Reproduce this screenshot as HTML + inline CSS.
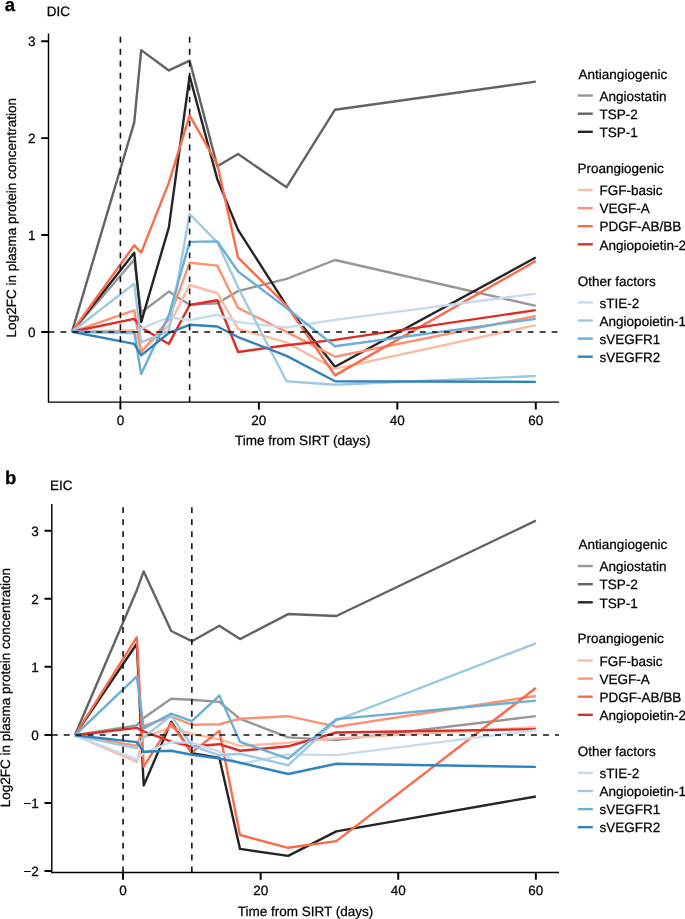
<!DOCTYPE html>
<html><head><meta charset="utf-8"><style>
html,body{margin:0;padding:0;background:#fff;}
svg{display:block;will-change:transform;}
text{font-family:"Liberation Sans",sans-serif;font-size:13.5px;fill:#000;stroke:#000;stroke-width:0.25px;text-rendering:geometricPrecision;}
text.lt{font-weight:bold;font-size:18.5px;}
polyline{fill:none;stroke-width:2.4;stroke-linejoin:round;stroke-linecap:butt;}
.lg{stroke-width:2.4;}
.dash line{stroke:#111;stroke-width:1.6;stroke-dasharray:5.9 6.08;}
.ax{fill:none;stroke:#000;stroke-width:1.45;}
.tk{fill:none;stroke:#000;stroke-width:1.95;}
</style></head><body>
<svg width="685" height="919" viewBox="0 0 685 919">
<polyline points="71.94,331.8 134.25,259.8 141.17,312.42 168.86,291.59 189.63,304.67 217.32,303.31 238.09,291.1 286.55,278.8 335.01,260 535.78,305.93" stroke="#969696"/>
<polyline points="71.94,331.8 134.25,122.4 141.17,50.11 168.86,70.46 189.63,60.67 217.32,166.29 238.09,154.09 286.55,187.23 335.01,109.71 535.78,81.6" stroke="#636363"/>
<polyline points="71.94,331.8 134.25,252.83 141.17,322.11 168.86,227.34 189.63,75.98 217.32,179.18 238.09,229.86 286.55,305.64 335.01,366.78 535.78,257.48" stroke="#252525"/>
<polyline points="71.94,331.8 134.25,330.25 141.17,351.18 168.86,325.5 189.63,285 217.32,293.04 238.09,328.89 286.55,342.46 335.01,368.91 535.78,325.11" stroke="#fcbba1"/>
<polyline points="71.94,331.8 134.25,310.29 141.17,352.15 168.86,319.2 189.63,262.81 217.32,265.62 238.09,307.87 286.55,331.8 335.01,356.8 535.78,316.01" stroke="#fc9272"/>
<polyline points="71.94,331.8 134.25,245.27 141.17,252.63 168.86,182.57 189.63,115.42 217.32,164.16 238.09,257.67 286.55,305.64 335.01,375.41 535.78,260.97" stroke="#fb6a4a"/>
<polyline points="71.94,331.8 134.25,318.91 141.17,327.44 168.86,343.91 189.63,304.96 217.32,300.21 238.09,351.96 286.55,345.27 335.01,339.84 535.78,310.09" stroke="#de2d26"/>
<polyline points="71.94,331.8 134.25,333.74 141.17,328.6 168.86,317.26 189.63,320.08 217.32,314.75 238.09,322.11 286.55,327.54 335.01,319.88 535.78,293.62" stroke="#c6dbef"/>
<polyline points="71.94,331.8 134.25,283.64 141.17,342.46 168.86,330.83 189.63,213.97 217.32,242.26 238.09,287.52 286.55,381.22 335.01,384.71 535.78,375.99" stroke="#9ecae1"/>
<polyline points="71.94,331.8 134.25,332.28 141.17,373.95 168.86,315.33 189.63,241.88 217.32,241.39 238.09,271.53 286.55,308.06 335.01,346.24 535.78,318.82" stroke="#6baed6"/>
<polyline points="71.94,331.8 134.25,343.91 141.17,355.35 168.86,332.96 189.63,324.82 217.32,326.47 238.09,337.03 286.55,355.83 335.01,381.22 535.78,381.9" stroke="#3182bd"/>
<g class="dash"><line x1="48.5" y1="332" x2="559" y2="332"/><line x1="120.4" y1="402.1" x2="120.4" y2="33.6"/><line x1="189.63" y1="402.1" x2="189.63" y2="33.6"/></g>
<path class="ax" d="M48.5,33.6V402.1H559"/>
<path class="tk" d="M48.5,332h-7.3M48.5,235.07h-7.3M48.5,138.14h-7.3M48.5,41.21h-7.3M120.4,402.1v7.3M258.86,402.1v7.3M397.32,402.1v7.3M535.78,402.1v7.3"/>
<text x="35.6" y="337" text-anchor="end">0</text>
<text x="35.6" y="240.07" text-anchor="end">1</text>
<text x="35.6" y="143.14" text-anchor="end">2</text>
<text x="35.6" y="46.21" text-anchor="end">3</text>
<text x="120.4" y="425.4" text-anchor="middle">0</text>
<text x="258.86" y="425.4" text-anchor="middle">20</text>
<text x="397.32" y="425.4" text-anchor="middle">40</text>
<text x="535.78" y="425.4" text-anchor="middle">60</text>
<text x="302.8" y="445.3" text-anchor="middle">Time from SIRT (days)</text>
<text transform="translate(16,217.7) rotate(-90)" text-anchor="middle">Log2FC in plasma protein concentration</text>
<text x="46.85" y="15.6">DIC</text>
<text class="lt" x="4.85" y="10.5">a</text>
<text x="578.6" y="78.8">Antiangiogenic</text>
<line x1="577.8" x2="592.8" y1="95.5" y2="95.5" stroke="#969696" class="lg"/>
<text x="599.6" y="100.7">Angiostatin</text>
<line x1="577.8" x2="592.8" y1="113.7" y2="113.7" stroke="#636363" class="lg"/>
<text x="599.6" y="118.9">TSP-2</text>
<line x1="577.8" x2="592.8" y1="131.8" y2="131.8" stroke="#252525" class="lg"/>
<text x="599.6" y="137">TSP-1</text>
<text x="577.5" y="172.7">Proangiogenic</text>
<line x1="577.8" x2="592.8" y1="190" y2="190" stroke="#fcbba1" class="lg"/>
<text x="599.6" y="195.2">FGF-basic</text>
<line x1="577.8" x2="592.8" y1="208.1" y2="208.1" stroke="#fc9272" class="lg"/>
<text x="599.6" y="213.3">VEGF-A</text>
<line x1="577.8" x2="592.8" y1="226.2" y2="226.2" stroke="#fb6a4a" class="lg"/>
<text x="599.6" y="231.4">PDGF-AB/BB</text>
<line x1="577.8" x2="592.8" y1="244.3" y2="244.3" stroke="#de2d26" class="lg"/>
<text x="599.6" y="249.5">Angiopoietin-2</text>
<text x="577.7" y="285.6">Other factors</text>
<line x1="577.8" x2="592.8" y1="302.4" y2="302.4" stroke="#c6dbef" class="lg"/>
<text x="599.6" y="307.6">sTIE-2</text>
<line x1="577.8" x2="592.8" y1="320.5" y2="320.5" stroke="#9ecae1" class="lg"/>
<text x="599.6" y="325.7">Angiopoietin-1</text>
<line x1="577.8" x2="592.8" y1="338.6" y2="338.6" stroke="#6baed6" class="lg"/>
<text x="599.6" y="343.8">sVEGFR1</text>
<line x1="577.8" x2="592.8" y1="356.7" y2="356.7" stroke="#3182bd" class="lg"/>
<text x="599.6" y="361.9">sVEGFR2</text>
<polyline points="74.89,735.3 136.81,725.4 143.69,718.09 171.21,698.69 191.85,699.72 219.37,701.83 240.01,718.91 288.17,737.35 336.33,740.08 535.85,716.18" stroke="#969696"/>
<polyline points="74.89,735.3 136.81,590.16 143.69,571.38 171.21,631.01 191.85,641.18 219.37,625.68 240.01,639.07 288.17,614.07 336.33,615.98 535.85,520.7" stroke="#636363"/>
<polyline points="74.89,735.3 136.81,643.78 143.69,785.5 171.21,721.64 191.85,753.06 219.37,757.84 240.01,848.88 288.17,855.92 336.33,831.4 535.85,796.5" stroke="#252525"/>
<polyline points="74.89,735.3 136.81,761.94 143.69,737.35 171.21,727.31 191.85,733.93 219.37,739.4 240.01,745.89 288.17,742.81 336.33,738.37 535.85,727.24" stroke="#fcbba1"/>
<polyline points="74.89,735.3 136.81,745.89 143.69,725.81 171.21,716.59 191.85,724.71 219.37,724.24 240.01,718.77 288.17,716.18 336.33,726.69 535.85,696.03" stroke="#fc9272"/>
<polyline points="74.89,735.3 136.81,637.22 143.69,766.58 171.21,723.21 191.85,752.38 219.37,730.86 240.01,835.02 288.17,847.79 336.33,841.16 535.85,688.04" stroke="#fb6a4a"/>
<polyline points="74.89,735.3 136.81,727.92 143.69,731.41 171.21,741.58 191.85,746.57 219.37,744.18 240.01,750.74 288.17,746.3 336.33,732.5 535.85,729.15" stroke="#de2d26"/>
<polyline points="74.89,735.3 136.81,759.41 143.69,753.06 171.21,742.13 191.85,742.81 219.37,751.69 240.01,763.99 288.17,754.42 336.33,755.11 535.85,730.18" stroke="#c6dbef"/>
<polyline points="74.89,735.3 136.81,748.41 143.69,737.35 171.21,715.56 191.85,745.68 219.37,755.31 240.01,753.74 288.17,765.28 336.33,720.27 535.85,643.37" stroke="#9ecae1"/>
<polyline points="74.89,735.3 136.81,676.29 143.69,728.33 171.21,713.51 191.85,721.23 219.37,695.62 240.01,741.79 288.17,758.59 336.33,719.18 535.85,700.6" stroke="#6baed6"/>
<polyline points="74.89,735.3 136.81,742.13 143.69,751.69 171.21,750.74 191.85,754.77 219.37,758.52 240.01,762.62 288.17,774.03 336.33,763.71 535.85,766.92" stroke="#3182bd"/>
<g class="dash"><line x1="51.8" y1="735" x2="559" y2="735"/><line x1="123.05" y1="872.5" x2="123.05" y2="503.9"/><line x1="191.85" y1="872.5" x2="191.85" y2="503.9"/></g>
<path class="ax" d="M51.8,503.9V872.5H559"/>
<path class="tk" d="M51.8,871.02h-7.3M51.8,802.96h-7.3M51.8,734.9h-7.3M51.8,666.84h-7.3M51.8,598.78h-7.3M51.8,530.72h-7.3M123.05,872.5v7.3M260.65,872.5v7.3M398.25,872.5v7.3M535.85,872.5v7.3"/>
<text x="38.8" y="876.02" text-anchor="end">−2</text>
<text x="38.8" y="807.96" text-anchor="end">−1</text>
<text x="38.8" y="739.9" text-anchor="end">0</text>
<text x="38.8" y="671.84" text-anchor="end">1</text>
<text x="38.8" y="603.78" text-anchor="end">2</text>
<text x="38.8" y="535.72" text-anchor="end">3</text>
<text x="123.05" y="895.3" text-anchor="middle">0</text>
<text x="260.65" y="895.3" text-anchor="middle">20</text>
<text x="398.25" y="895.3" text-anchor="middle">40</text>
<text x="535.85" y="895.3" text-anchor="middle">60</text>
<text x="305.6" y="916" text-anchor="middle">Time from SIRT (days)</text>
<text transform="translate(10.1,687.6) rotate(-90)" text-anchor="middle">Log2FC in plasma protein concentration</text>
<text x="50" y="490.1">EIC</text>
<text class="lt" x="5.1" y="484.35">b</text>
<text x="578.6" y="549.3">Antiangiogenic</text>
<line x1="577.8" x2="592.8" y1="566" y2="566" stroke="#969696" class="lg"/>
<text x="599.6" y="571.2">Angiostatin</text>
<line x1="577.8" x2="592.8" y1="584.2" y2="584.2" stroke="#636363" class="lg"/>
<text x="599.6" y="589.4">TSP-2</text>
<line x1="577.8" x2="592.8" y1="602.3" y2="602.3" stroke="#252525" class="lg"/>
<text x="599.6" y="607.5">TSP-1</text>
<text x="577.5" y="643.2">Proangiogenic</text>
<line x1="577.8" x2="592.8" y1="660.5" y2="660.5" stroke="#fcbba1" class="lg"/>
<text x="599.6" y="665.7">FGF-basic</text>
<line x1="577.8" x2="592.8" y1="678.6" y2="678.6" stroke="#fc9272" class="lg"/>
<text x="599.6" y="683.8">VEGF-A</text>
<line x1="577.8" x2="592.8" y1="696.7" y2="696.7" stroke="#fb6a4a" class="lg"/>
<text x="599.6" y="701.9">PDGF-AB/BB</text>
<line x1="577.8" x2="592.8" y1="714.8" y2="714.8" stroke="#de2d26" class="lg"/>
<text x="599.6" y="720">Angiopoietin-2</text>
<text x="577.7" y="756.1">Other factors</text>
<line x1="577.8" x2="592.8" y1="772.9" y2="772.9" stroke="#c6dbef" class="lg"/>
<text x="599.6" y="778.1">sTIE-2</text>
<line x1="577.8" x2="592.8" y1="791" y2="791" stroke="#9ecae1" class="lg"/>
<text x="599.6" y="796.2">Angiopoietin-1</text>
<line x1="577.8" x2="592.8" y1="809.1" y2="809.1" stroke="#6baed6" class="lg"/>
<text x="599.6" y="814.3">sVEGFR1</text>
<line x1="577.8" x2="592.8" y1="827.2" y2="827.2" stroke="#3182bd" class="lg"/>
<text x="599.6" y="832.4">sVEGFR2</text>
</svg>
</body></html>
